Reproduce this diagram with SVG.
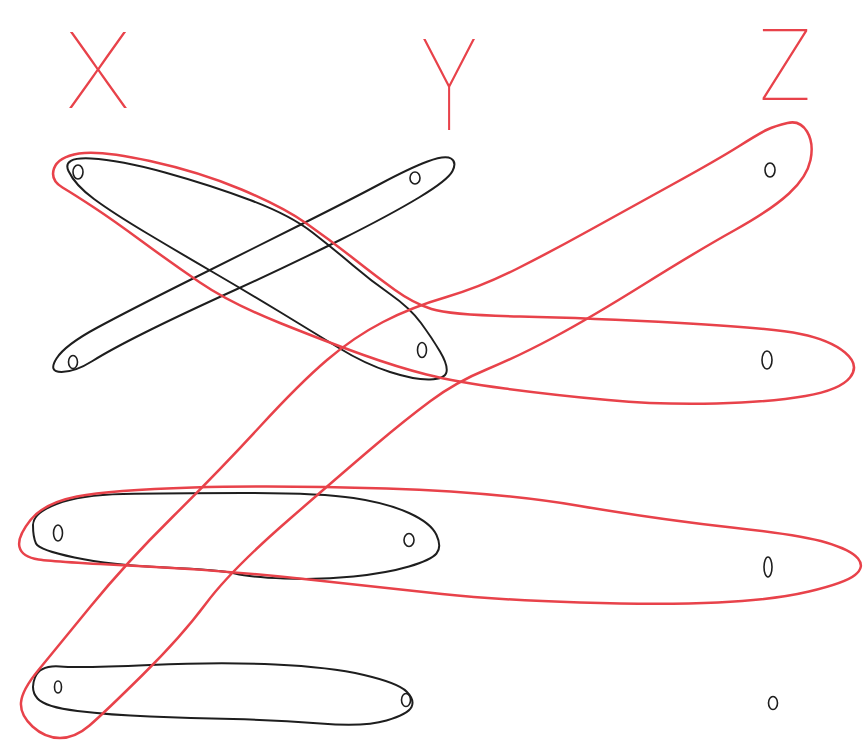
<svg xmlns="http://www.w3.org/2000/svg" width="866" height="746" viewBox="0 0 866 746">
<style>
.bg{fill:#ffffff}
.blk{fill:none;stroke:#1e1e1e;stroke-width:2;stroke-linejoin:round}
.red{fill:none;stroke:#e8424a;stroke-width:2.5;stroke-linejoin:round}
.v{fill:none;stroke:#1e1e1e;stroke-width:1.6}
.lbl{fill:#e8424a;font-family:Inter,"DejaVu Sans","Liberation Sans",sans-serif;font-weight:100;text-anchor:middle}
</style>
<rect class="bg" x="0" y="0" width="866" height="746"/>
<g id="labels">
<text class="lbl" x="98" y="108" font-size="104">X</text>
<text class="lbl" transform="translate(449,130) scale(0.9,1.25)" font-size="100">Y</text>
<text class="lbl" x="785" y="100" font-size="98">Z</text>
</g>
<g id="connectors">
<path id="e-x1y2" class="blk" d="M68.5,171 Q62,157 91,158.5 Q120,160 165,172.5 Q210,185 250,200 Q290,215 312.5,232.5 Q335,250 352.5,265 Q370,280 390,294 Q410,308 421,323 Q432,338 440,351.5 Q448,365 446.5,372 Q445,379 430,379.5 Q415,380 390,372 Q365,364 339,348 Q313,332 280,312 Q247,292 213.5,272.5 Q180,253 146.5,233 Q113,213 94,199 Q75,185 68.5,171 Z"/>
<path id="e-x2y1" class="blk" d="M61.5,372 Q48,372 56.5,358.5 Q65,345 97.5,327.5 Q130,310 190,280 Q250,250 300,225 Q350,200 380,184 Q410,168 427.5,161.5 Q445,155 451,158.5 Q457,162 452.5,171 Q448,180 419,197.5 Q390,215 340,240 Q290,265 235,290 Q180,315 145,332.5 Q110,350 92.5,361 Q75,372 61.5,372 Z"/>
<path id="e-x3y3" class="blk" d="M33,525 Q33,513 56.5,504 Q80,495 123,494 Q166,493 243,493 Q320,493 353.5,498 Q387,503 409,513 Q431,523 436.5,535 Q442,547 436.5,553.5 Q431,560 409,566.5 Q387,573 353.5,576.5 Q320,580 284.5,578.5 Q249,577 235,573.5 Q221,570 165.5,567.5 Q110,565 74.5,557.5 Q39,550 36,543.5 Q33,537 33,525 Z"/>
<path id="e-x4y4" class="blk" d="M35,677.5 Q40,665 60,666.5 Q80,668 150,665 Q220,662 275,664.5 Q330,667 364,675 Q398,683 406.5,691.5 Q415,700 411.5,707 Q408,714 386.5,720.5 Q365,727 320.5,723.5 Q276,720 233,719 Q190,718 150,716.5 Q110,715 77.5,711 Q45,707 37.5,698.5 Q30,690 35,677.5 Z"/>
<path id="e-x1y2z2" class="red" d="M62.5,187.5 Q50,180 54,168.5 Q58,157 79,153.5 Q100,150 150,161 Q200,172 241.5,189.5 Q283,207 306.5,223.5 Q330,240 353.5,258.5 Q377,277 395,290 Q413,303 431.5,309 Q450,315 520,316.5 Q590,318 680.5,323 Q771,328 800.5,334 Q830,340 845,352.5 Q860,365 850,377.5 Q840,390 805.5,396 Q771,402 716.5,403.5 Q662,405 608,400 Q554,395 505,388.5 Q456,382 426.5,374.5 Q397,367 363.5,355 Q330,343 280,323 Q230,303 200,282.5 Q170,262 141.5,241 Q113,220 94,207.5 Q75,195 62.5,187.5 Z"/>
<path id="e-z1x4" class="red" d="M767.5,129.5 Q775,126 787.5,123 Q800,120 807,131.5 Q814,143 810.5,160 Q807,177 789,193.5 Q771,210 735,230 Q699,250 644.5,284 Q590,318 553.5,337.5 Q517,357 486.5,369.5 Q456,382 430.5,401 Q405,420 375.5,445 Q346,470 288.5,520 Q231,570 206,603.5 Q181,637 142.5,675 Q104,713 89.5,725.5 Q75,738 60,738 Q45,738 32.5,726.5 Q20,715 21,702.5 Q22,690 38.5,670 Q55,650 90.5,606.5 Q126,563 173,516.5 Q220,470 260,426.5 Q300,383 327,360 Q354,337 383,322 Q412,307 446.5,297 Q481,287 517.5,268.5 Q554,250 590,230 Q626,210 671.5,185 Q717,160 738.5,146.5 Q760,133 767.5,129.5 Z"/>
<path id="e-x3y3z3" class="red" d="M19.5,547 Q17,537 30.5,520 Q44,503 77,496.5 Q110,490 193,487.5 Q276,485 386.5,488.5 Q497,492 580,506 Q663,520 732,527.5 Q801,535 826,542.5 Q851,550 858,558.5 Q865,567 855,575 Q845,583 809,591.5 Q773,600 718,602.5 Q663,605 580,602.5 Q497,600 442,594 Q387,588 304,579 Q221,570 138,566 Q55,562 38.5,559.5 Q22,557 19.5,547 Z"/>
</g>
<g id="x1"><ellipse class="v" cx="78" cy="172" rx="5" ry="7"/></g>
<g id="x2"><ellipse class="v" cx="73" cy="362" rx="4.5" ry="6.5"/></g>
<g id="x3"><ellipse class="v" cx="58" cy="533" rx="4.5" ry="8"/></g>
<g id="x4"><ellipse class="v" cx="58" cy="687" rx="3.5" ry="6"/></g>
<g id="y1"><ellipse class="v" cx="415" cy="178" rx="5" ry="6"/></g>
<g id="y2"><ellipse class="v" cx="422" cy="350" rx="4.5" ry="7.5"/></g>
<g id="y3"><ellipse class="v" cx="409" cy="540" rx="5" ry="6.5"/></g>
<g id="y4"><ellipse class="v" cx="406" cy="700" rx="4.5" ry="6.5"/></g>
<g id="z1"><ellipse class="v" cx="770" cy="170" rx="5" ry="7"/></g>
<g id="z2"><ellipse class="v" cx="767" cy="360" rx="5" ry="9"/></g>
<g id="z3"><ellipse class="v" cx="768" cy="567" rx="4" ry="10"/></g>
<g id="z4"><ellipse class="v" cx="773" cy="703" rx="4.5" ry="6.5"/></g>
</svg>
